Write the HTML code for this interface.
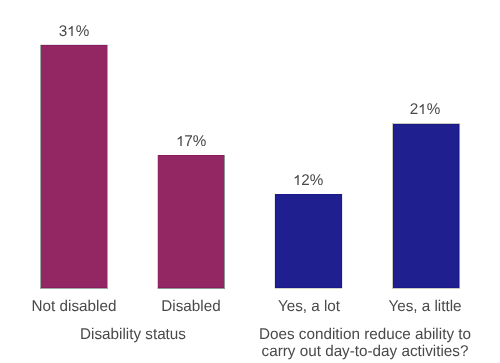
<!DOCTYPE html>
<html><head><meta charset="utf-8">
<style>
html,body{margin:0;padding:0;background:#fff;}
body{width:500px;height:363px;position:relative;overflow:hidden;font-family:"Liberation Sans",sans-serif;color:#494949;}
.bar{position:absolute;box-sizing:border-box;}
.e{position:absolute;}
.g{background:#a0aaa5;}
.tn{background:#cbcbbe;}
.p{background:#922764;box-shadow:inset 0 1px 0 #8c1a5e,inset 0 -1px 0 #8c1a5e;}
.b{background:#201f8f;box-shadow:inset 0 0 0 1px #1a188a;}
.t{position:absolute;font-size:15.25px;line-height:15px;white-space:nowrap;text-align:center;width:300px;text-rendering:geometricPrecision;transform:scaleY(1.02);transform-origin:50% 80%;will-change:transform;}
.one{display:inline-block;width:0.5562em;height:0.688em;fill:#494949;vertical-align:baseline;}
</style></head><body>
<div class="e" style="left:40px;top:44px;width:68px;height:1px;background:#e4e8e6"></div>
<div class="e g" style="left:40px;top:45px;width:68px;height:244px"></div>
<div class="bar p" style="left:41px;top:45px;width:66px;height:243px"></div>
<div class="e" style="left:157px;top:155px;width:1px;height:134px;background:#ccd4d0"></div>
<div class="e g" style="left:158px;top:155px;width:67px;height:134px;background:#8f9994"></div>
<div class="bar p" style="left:158px;top:155px;width:66px;height:133px"></div>
<div class="e" style="left:274px;top:194px;width:69px;height:94px;background:#e8e8f3"></div>
<div class="e" style="left:275px;top:288px;width:67px;height:1px;background:#d4d4c4"></div>
<div class="bar b" style="left:275px;top:194px;width:67px;height:94px"></div>
<div class="e tn" style="left:392px;top:123px;width:68px;height:166px"></div>
<div class="e" style="left:459px;top:124px;width:1px;height:164px;background:#8786c2"></div>
<div class="bar b" style="left:393px;top:124px;width:66px;height:164px"></div>

<div class="t" style="left:-76px;top:23.5px">3<svg class="one" viewBox="0 0 1139 1409"><path transform="matrix(1 0 0 -0.961 0 1409)" d="M763 0H583V1147Q518 1085 412 1023T223 938V1112Q391 1191 516 1291T640 1466H763Z"/></svg>%</div>
<div class="t" style="left:41px;top:133.5px"><svg class="one" viewBox="0 0 1139 1409"><path transform="matrix(1 0 0 -0.961 0 1409)" d="M763 0H583V1147Q518 1085 412 1023T223 938V1112Q391 1191 516 1291T640 1466H763Z"/></svg>7%</div>
<div class="t" style="left:158px;top:172.5px"><svg class="one" viewBox="0 0 1139 1409"><path transform="matrix(1 0 0 -0.961 0 1409)" d="M763 0H583V1147Q518 1085 412 1023T223 938V1112Q391 1191 516 1291T640 1466H763Z"/></svg>2%</div>
<div class="t" style="left:275px;top:102px">2<svg class="one" viewBox="0 0 1139 1409"><path transform="matrix(1 0 0 -0.961 0 1409)" d="M763 0H583V1147Q518 1085 412 1023T223 938V1112Q391 1191 516 1291T640 1466H763Z"/></svg>%</div>

<div class="t" style="left:-76px;top:298.5px">Not disabled</div>
<div class="t" style="left:41px;top:298.5px">Disabled</div>
<div class="t" style="left:158.6px;top:298.5px">Yes, a lot</div>
<div class="t" style="left:275px;top:298.5px">Yes, a little</div>

<div class="t" style="left:-17px;top:326.5px">Disability status</div>
<div class="t" style="left:215px;top:326.5px">Does condition reduce ability to</div>
<div class="t" style="left:215px;top:343.5px">carry out day-to-day activities?</div>
</body></html>
